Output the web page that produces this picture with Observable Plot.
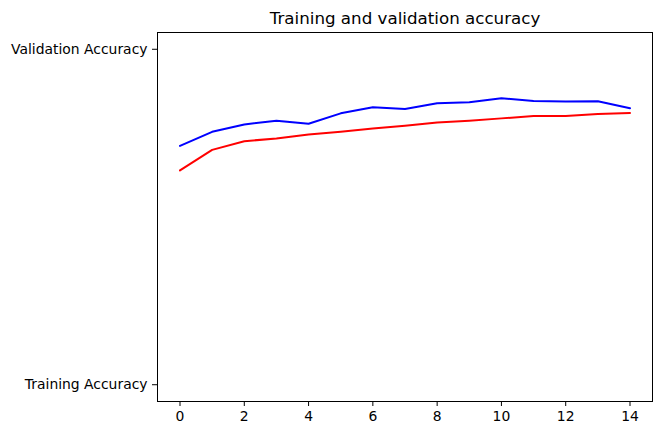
<!DOCTYPE html>
<html>
<head>
<meta charset="utf-8">
<script src="https://cdn.jsdelivr.net/npm/d3@7"></script>
<script src="https://cdn.jsdelivr.net/npm/@observablehq/plot@0.6"></script>
<style>
  html, body { margin: 0; padding: 0; background: #fff; }
  svg { display: block; }
</style>
</head>
<body>
<div id="chart"></div>
<script>
const title = "Training and validation accuracy";
const epochs = [0,1,2,3,4,5,6,7,8,9,10,11,12,13,14];
const trainingAcc = [0.639,0.700,0.726,0.734,0.746,0.754,0.764,0.772,0.782,0.787,0.794,0.801,0.801,0.807,0.810];
const validationAcc = [0.712,0.754,0.776,0.787,0.778,0.809,0.827,0.822,0.839,0.842,0.854,0.846,0.844,0.845,0.824];
const yTickValues = [0, 1];
const yTickLabels = ["Training Accuracy", "Validation Accuracy"];
const xTicks = [0,2,4,6,8,10,12,14];

const train = epochs.map((e, i) => ({epoch: e, acc: trainingAcc[i]}));
const val = epochs.map((e, i) => ({epoch: e, acc: validationAcc[i]}));

const chart = Plot.plot({
  width: 662,
  height: 435,
  marginLeft: 157,
  marginRight: 10,
  marginTop: 32,
  marginBottom: 34,
  style: {fontFamily: "DejaVu Sans", fontSize: "13.9px", color: "#000", background: "#fff"},
  x: {domain: [-0.7, 14.7]},
  y: {domain: [-0.05, 1.05]},
  marks: [
    Plot.frame({stroke: "#000", strokeWidth: 1}),
    Plot.line(train, {x: "epoch", y: "acc", stroke: "red", strokeWidth: 2}),
    Plot.line(val, {x: "epoch", y: "acc", stroke: "blue", strokeWidth: 2}),
    Plot.axisX({ticks: xTicks, tickSize: 5, tickPadding: 5, label: null, fontSize: 13.9, tickFormat: d => String(d)}),
    Plot.axisY({ticks: yTickValues, tickSize: 5, tickPadding: 5, label: null, fontSize: 13.9, tickFormat: d => yTickLabels[d]}),
    Plot.text([title], {frameAnchor: "top", dy: -9, lineAnchor: "bottom", text: d => d, fontSize: 16.7, fill: "#000"})
  ]
});
document.getElementById("chart").appendChild(chart);
</script>
</body>
</html>
